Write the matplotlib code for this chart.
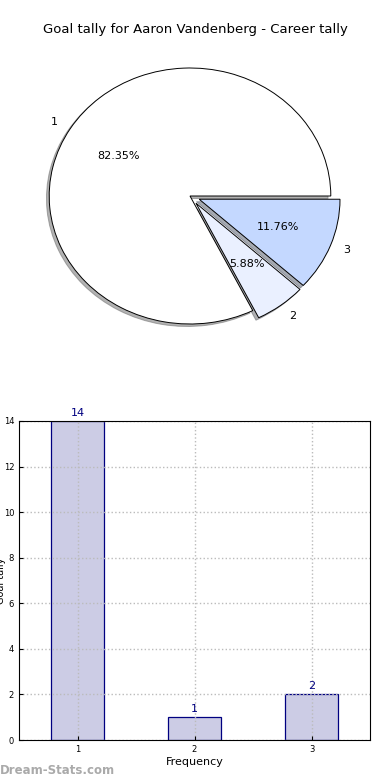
import matplotlib
matplotlib.use("Agg")
from matplotlib import pyplot as plt

# data
goals = [1, 2, 3]
matches = [14, 1, 2]
pie_labels = ['1', '2', '3']
pie_colors = ['#ffffff', '#eaf0ff', '#c4d8ff']
explode = [0, 0.07, 0.07]

fig = plt.figure(figsize=(3.9, 7.8), dpi=100)

fig.text(0.5, 1 - 30 / 780, "Goal tally for Aaron Vandenberg - Career tally",
         ha='center', va='center', fontsize=9.5)

# pie
ax1 = fig.add_axes([14 / 390, 424 / 780, 352 / 390, 320 / 780])
wedges, texts, autotexts = ax1.pie(matches, labels=pie_labels, colors=pie_colors,
                                   explode=explode, autopct='%.2f%%',
                                   shadow={'ox': -0.014, 'oy': -0.014, 'shade': 0.6},
                                   startangle=0, labeldistance=1.1,
                                   wedgeprops={'edgecolor': 'black', 'linewidth': 0.7},
                                   textprops={'fontsize': 8})
ax1.set_aspect('auto')
ax1.set_xlim(-1.25, 1.25)
ax1.set_ylim(-1.25, 1.25)
ax1.axis('off')

# bars
ax2 = fig.add_axes([19 / 390, 40 / 780, 351 / 390, 319 / 780])
bars = ax2.bar(goals, matches, width=0.45, color=(0, 0, 0.5, 0.2),
               edgecolor='navy', linewidth=0.9)
for x, v in zip(goals, matches):
    ax2.text(x, v + 0.15, str(v), ha='center', va='bottom', color='navy', fontsize=8)
ax2.set_xlim(0.5, 3.5)
ax2.set_ylim(0, 14)
ax2.set_xticks(goals)
ax2.set_yticks(range(0, 15, 2))
ax2.tick_params(labelsize=6, length=3, direction='in')
ax2.grid(True, linestyle=':', color='#bbbbbb', linewidth=1)
ax2.set_axisbelow(False)
for s in ax2.spines.values():
    s.set_zorder(3)
ax2.set_xlabel("Frequency", fontsize=8, labelpad=2)
ax2.set_ylabel("Goal tally", fontsize=7)
ax2.yaxis.set_label_coords(-0.038, 0.5)

fig.text(0.0, 1 - 771 / 780, "Dream-Stats.com", fontsize=8.5, color='#aaaaaa',
         ha='left', va='center', fontweight='bold')

plt.savefig("out.png", dpi=100)
